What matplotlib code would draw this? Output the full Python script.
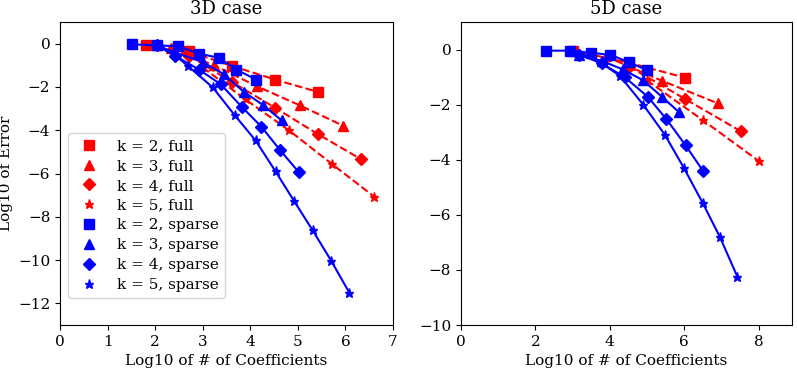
import matplotlib
matplotlib.use("Agg")
import matplotlib.pyplot as plt

plt.rcParams["font.family"] = "DejaVu Serif"
plt.rcParams["mathtext.fontset"] = "dejavuserif"

ks = [2, 3, 4, 5]
markers = ["s", "^", "D", "*"]

# 3D case, full grids
x3_full = [
    [1.81, 2.71, 3.61, 4.52, 5.42],
    [2.33, 3.24, 4.14, 5.04, 5.95],
    [2.71, 3.61, 4.52, 5.42, 6.32],
    [3.00, 3.90, 4.81, 5.71, 6.61],
]
y3_full = [
    [-0.06, -0.36, -1.03, -1.66, -2.23],
    [-0.22, -1.00, -1.97, -2.85, -3.79],
    [-0.55, -1.77, -2.96, -4.18, -5.33],
    [-1.10, -2.58, -4.00, -5.55, -7.08],
]
# 3D case, sparse grids
x3_sparse = [
    [1.51, 2.03, 2.49, 2.92, 3.35, 3.71, 4.13],
    [2.03, 2.41, 3.00, 3.44, 3.86, 4.27, 4.66],
    [2.03, 2.41, 2.93, 3.38, 3.82, 4.23, 4.63, 5.02],
    [2.03, 2.41, 2.70, 3.21, 3.67, 4.11, 4.53, 4.92, 5.31, 5.70, 6.08],
]
y3_sparse = [
    [-0.03, -0.08, -0.12, -0.46, -0.66, -1.20, -1.67],
    [-0.08, -0.40, -0.85, -1.41, -2.22, -2.84, -3.55],
    [-0.08, -0.55, -1.21, -1.88, -2.92, -3.83, -4.93, -5.94],
    [-0.08, -0.52, -1.05, -2.02, -3.30, -4.47, -5.90, -7.27, -8.62, -10.03, -11.50],
]

# 5D case, full grids
x5_full = [
    [3.01, 4.52, 6.02],
    [3.89, 5.40, 6.90],
    [4.52, 6.02, 7.53],
    [5.00, 6.51, 8.01],
]
y5_full = [
    [-0.04, -0.48, -1.02],
    [-0.25, -1.13, -1.95],
    [-0.62, -1.79, -2.97],
    [-1.12, -2.57, -4.05],
]
# 5D case, sparse grids
x5_sparse = [
    [2.29, 2.94, 3.50, 4.02, 4.53, 4.99],
    [3.17, 3.80, 4.35, 4.90, 5.40, 5.86],
    [3.17, 3.78, 4.40, 5.02, 5.52, 6.04, 6.51],
    [3.78, 4.27, 4.90, 5.48, 5.99, 6.50, 6.96, 7.43],
]
y5_sparse = [
    [-0.04, -0.04, -0.12, -0.19, -0.47, -0.74],
    [-0.18, -0.42, -0.72, -1.12, -1.71, -2.27],
    [-0.18, -0.50, -1.00, -1.71, -2.52, -3.48, -4.41],
    [-0.50, -0.95, -2.00, -3.09, -4.29, -5.57, -6.80, -8.24],
]

fig = plt.figure(figsize=(7.97, 3.68), dpi=100)
ax1 = fig.add_axes([0.0753, 0.1168, 0.4178, 0.8234])
ax2 = fig.add_axes([0.5784, 0.1168, 0.4153, 0.8234])

fs = 11
ms = 6.5


def draw(ax, xf, yf, xs, ys):
    for i, k in enumerate(ks):
        ax.plot(xf[i], yf[i], "--", color="r", linewidth=1.5)
        ax.plot(xf[i], yf[i], markers[i], color="r", markersize=ms,
                label="k = %d, full" % k)
    for i, k in enumerate(ks):
        ax.plot(xs[i], ys[i], "-", color="b", linewidth=1.5)
        ax.plot(xs[i], ys[i], markers[i], color="b", markersize=ms,
                label="k = %d, sparse" % k)
    ax.set_xlabel("Log10 of # of Coefficients", fontsize=fs)
    ax.tick_params(labelsize=fs)


draw(ax1, x3_full, y3_full, x3_sparse, y3_sparse)
ax1.set_xlim(0, 7)
ax1.set_ylim(-13, 1)
ax1.set_yticks(range(-12, 1, 2))
ax1.set_title("3D case", fontsize=13)
ax1.set_ylabel("Log10 of Error", fontsize=fs)
ax1.yaxis.set_label_coords(-0.14, 0.5)
ax1.legend(loc="lower left", bbox_to_anchor=(0, 0.064), fontsize=fs,
           numpoints=1, labelspacing=0.38)

draw(ax2, x5_full, y5_full, x5_sparse, y5_sparse)
ax2.set_xlim(0, 8.9)
ax2.set_ylim(-10, 1)
ax2.set_xticks([0, 2, 4, 6, 8])
ax2.set_yticks(range(-10, 1, 2))
ax2.set_title("5D case", fontsize=13)

fig.savefig("out.png", dpi=100)
